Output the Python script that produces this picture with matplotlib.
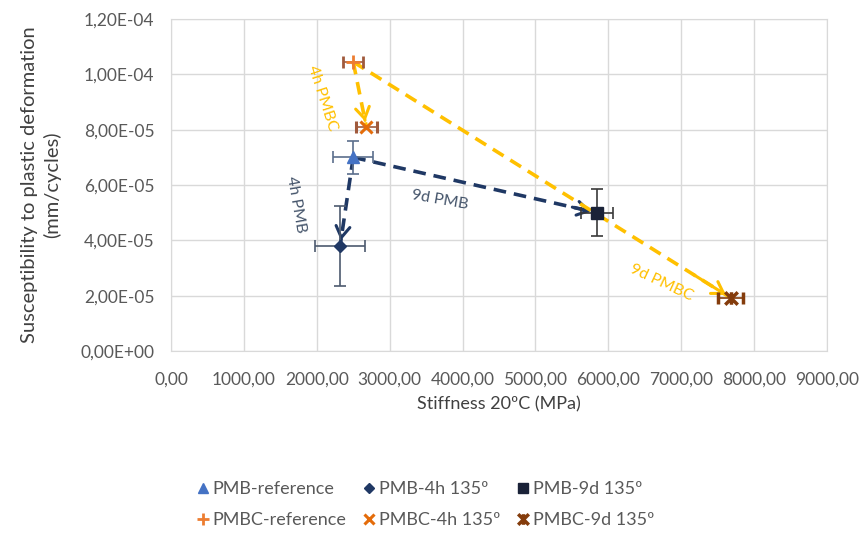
import matplotlib
matplotlib.use("Agg")
import matplotlib.pyplot as plt
from matplotlib.path import Path
from matplotlib.lines import Line2D
from matplotlib.ticker import FuncFormatter

plt.rcParams['font.family'] = ['Lato', 'DejaVu Sans']

# Series: stiffness (MPa), susceptibility (mm/cycle) and their error bars
series_names = ["PMB-reference", "PMB-4h 135º", "PMB-9d 135º",
                "PMBC-reference", "PMBC-4h 135º", "PMBC-9d 135º"]
stiffness = [2500, 2320, 5840, 2500, 2680, 7680]
suscept = [7.0e-5, 3.8e-5, 5.0e-5, 1.045e-4, 8.1e-5, 1.92e-5]
stiff_err = [275, 345, 220, 140, 140, 170]
susc_err = [0.6e-5, 1.45e-5, 0.85e-5, 0.0, 0.0, 0.0]

# Ageing arrows: (from index, to index, label)
arrows = [(0, 1, "4h PMB"), (0, 2, "9d PMB"), (3, 4, "4h PMBC"), (3, 5, "9d PMBC")]
arrow_label_pos = [(1715, 5.28e-5), (3690, 5.46e-5), (2070, 9.15e-5), (6735, 2.46e-5)]
arrow_label_rot = [-80, -10, -72, -25]

x_ticks = [0, 1000, 2000, 3000, 4000, 5000, 6000, 7000, 8000, 9000]
y_ticks = [0, 2e-5, 4e-5, 6e-5, 8e-5, 1.0e-4, 1.2e-4]

star = Path([(-1, -1), (1, 1), (-1, 1), (1, -1), (0, -1), (0, 1)],
            [Path.MOVETO, Path.LINETO, Path.MOVETO, Path.LINETO, Path.MOVETO, Path.LINETO])

styles = [
    dict(marker='^', color='#4472C4', ms=9, ecolor='#5B6E8C'),
    dict(marker='D', color='#203864', ms=6.5, ecolor='#4D5A6E'),
    dict(marker='s', color='#1A2238', ms=8.5, ecolor='#3A3A3A'),
    dict(marker='+', color='#ED7D31', ms=10, mew=2, ecolor='#A05A3C'),
    dict(marker='x', color='#E46C0A', ms=9, mew=2.2, ecolor='#A05A3C'),
    dict(marker=star, color='#843C0C', ms=9, mew=2.5, ecolor='#843C0C'),
]

fig = plt.figure(figsize=(8.61, 5.35), dpi=100)
ax = fig.add_axes([0.1986, 0.3439, 0.7619, 0.6206])

ax.set_xlim(0, 9000)
ax.set_ylim(0, 1.2e-4)
ax.set_xticks(x_ticks)
ax.set_yticks(y_ticks)
ax.grid(True, color='#D9D9D9', lw=1)
ax.set_axisbelow(True)
for s in ax.spines.values():
    s.set_color('#D9D9D9')
ax.tick_params(length=0, colors='#595959', labelsize=12.5)
ax.tick_params(axis='y', pad=12)
ax.tick_params(axis='x', pad=15)
ax.xaxis.set_major_formatter(FuncFormatter(lambda v, p: f"{v:.2f}".replace('.', ',')))


def sci_fmt(v, p):
    m, e = f"{v:.2E}".split('E')
    return f"{m.replace('.', ',')}E{e[0]}{int(e[1:]):02d}"


ax.yaxis.set_major_formatter(FuncFormatter(sci_fmt))

# Arrows between the aged states
arrow_colors = {0: '#1F3864', 3: '#FFC000'}
label_colors = {0: '#44546A', 3: '#FFC000'}
for (i, j, lab), (lx, ly), rot in zip(arrows, arrow_label_pos, arrow_label_rot):
    c = arrow_colors[i]
    x0, y0 = stiffness[i], suscept[i]
    x1, y1 = stiffness[j], suscept[j]
    ax.plot([x0, x1], [y0, y1], ls=(0, (3.5, 2.2)), color=c, lw=2.6, zorder=2)
    ax.annotate('', xy=(x1, y1), xytext=(x0 + 0.9 * (x1 - x0), y0 + 0.9 * (y1 - y0)),
                arrowprops=dict(arrowstyle='->,head_length=0.8,head_width=0.5',
                                color=c, lw=2.2, shrinkA=0, shrinkB=4), zorder=2)
    ax.text(lx, ly, lab, rotation=rot, color=label_colors[i], fontsize=11.5,
            ha='center', va='center', rotation_mode='anchor')

for k in range(6):
    st = dict(styles[k])
    ec = st.pop('ecolor')
    xe = stiff_err[k]
    ye = susc_err[k] if susc_err[k] > 0 else None
    ax.errorbar(stiffness[k], suscept[k], xerr=xe, yerr=ye, ls='none',
                ecolor=ec, elinewidth=1.2, capsize=4, capthick=1.2,
                label=series_names[k], zorder=3, **st)

ax.set_xlabel("Stiffness 20ºC (MPa)", fontsize=13, color='#404040', labelpad=6)
ax.set_ylabel("Susceptibility to plastic deformation\n(mm/cycles)", fontsize=14.5,
              color='#404040', labelpad=14, linespacing=1.35)

leg_h = []
for k in range(6):
    st = dict(styles[k])
    st.pop('ecolor')
    leg_h.append(Line2D([], [], ls='none', **st))
order = [0, 3, 1, 4, 2, 5]
fig.legend([leg_h[k] for k in order], [series_names[k] for k in order],
           ncol=3, loc='center', bbox_to_anchor=(0.493, 0.057), frameon=False,
           fontsize=13, labelcolor='#595959', handletextpad=0.1, columnspacing=0.8,
           handlelength=0.9, markerscale=0.85, labelspacing=0.85)

fig.savefig("out.png", dpi=100, facecolor='white')
